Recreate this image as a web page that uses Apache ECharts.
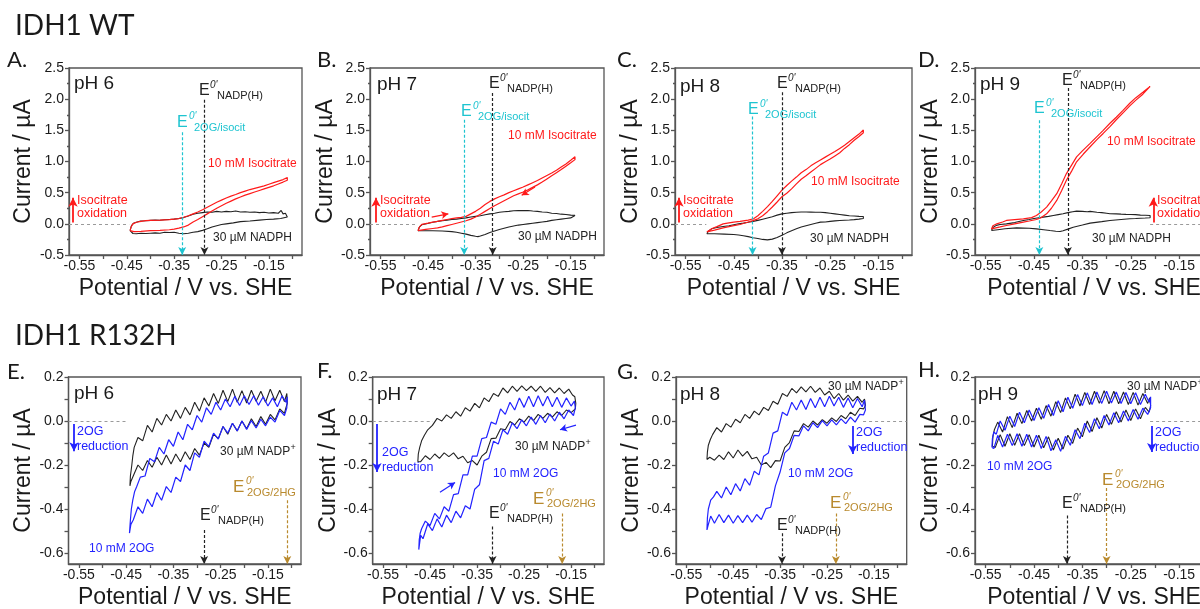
<!DOCTYPE html>
<html><head><meta charset="utf-8">
<script src="https://cdn.jsdelivr.net/npm/echarts@6/dist/echarts.min.js"></script>
<style>html,body{margin:0;padding:0;background:#fff}#c{width:1200px;height:609px}</style>
</head><body><div id="c"></div>
<script>
// ---------------- DATA ----------------
const X_MIN = -0.572, X_MAX = -0.08;
const xLabelValues = [-0.55, -0.45, -0.35, -0.25, -0.15];
const xTickValues = [-0.55, -0.5, -0.45, -0.4, -0.35, -0.3, -0.25, -0.2, -0.15, -0.1];
const botYLabelValues = [-0.6, -0.4, -0.2, 0, 0.2];
const botYTickValues = [-0.6, -0.5, -0.4, -0.3, -0.2, -0.1, 0, 0.1, 0.2];

const panelIds = ['A','B','C','D','E','F','G','H'];
const phLabels = ['pH 6','pH 7','pH 8','pH 9','pH 6','pH 7','pH 8','pH 9'];
// E0' NADP(H) potentials (V) and top of their dashed marker lines (µA)
const nadpE0 = [-0.286, -0.314, -0.350, -0.380, -0.285, -0.317, -0.346, -0.382];
const nadpTop = [1.99, 2.10, 2.11, 2.18, -0.495, -0.48, -0.51, -0.43];
// E0' substrate couple (2OG/isocit top row, 2OG/2HG bottom row)
const subE0 = [-0.333, -0.374, -0.411, -0.439, -0.109, -0.169, -0.231, -0.300];
const subTop = [1.47, 1.67, 1.72, 1.66, -0.36, -0.42, -0.42, -0.305];
// zero-current reference segment [from, to]
const zeroSeg = [[-0.572,-0.445],[-0.572,-0.472],[-0.572,-0.507],[-0.21,-0.08],[-0.572,-0.446],[-0.572,-0.444],[-0.173,-0.08],[-0.21,-0.08]];
// signal direction arrows (oxidation up / reduction down)
const signalArrowX = [-0.5635, -0.5594, -0.5637, -0.2034, -0.5604, -0.5629, -0.1951, -0.2067];
const signalArrowY = [[0.02,0.42],[0.02,0.42],[0.02,0.42],[0.02,0.42],[-0.014,-0.137],[-0.014,-0.232],[-0.023,-0.15],[-0.023,-0.141]];
// scan direction arrows
const B_scanArrows = [[[-0.4423,0.108],[-0.4073,0.161]], [[-0.2251,0.591],[-0.2531,0.457]]];
const F_scanArrows = [[[-0.4289,-0.324],[-0.3969,-0.279]], [[-0.1396,-0.0185],[-0.1736,-0.0397]]];

// ---- IDH1 WT: 30 µM NADPH (black) and 10 mM isocitrate (red) ----
const A_nadph = [[-0.443,-0.11],[-0.440,-0.03],[-0.436,0.01],[-0.428,0.03],[-0.421,0.045],[-0.41,0.05],[-0.40,0.055],[-0.39,0.06],[-0.38,0.058],[-0.37,0.065],[-0.36,0.07],[-0.35,0.075],[-0.34,0.085],[-0.33,0.10],[-0.32,0.125],[-0.31,0.155],[-0.30,0.17],[-0.29,0.18],[-0.28,0.19],[-0.27,0.185],[-0.26,0.2],[-0.25,0.19],[-0.24,0.2],[-0.23,0.195],[-0.22,0.205],[-0.21,0.19],[-0.20,0.195],[-0.19,0.185],[-0.18,0.19],[-0.17,0.18],[-0.16,0.185],[-0.15,0.175],[-0.14,0.18],[-0.13,0.17],[-0.124,0.215],[-0.12,0.16],[-0.115,0.17],[-0.111,0.175],
 [-0.111,0.11],[-0.115,0.1],[-0.125,0.085],[-0.14,0.075],[-0.155,0.07],[-0.17,0.06],[-0.19,0.045],[-0.21,0.035],[-0.225,0.015],[-0.24,0.0],[-0.25,-0.01],[-0.26,-0.03],[-0.27,-0.05],[-0.28,-0.08],[-0.29,-0.105],[-0.30,-0.125],[-0.31,-0.135],[-0.32,-0.15],[-0.33,-0.16],[-0.34,-0.15],[-0.35,-0.135],[-0.36,-0.14],[-0.37,-0.135],[-0.38,-0.15],[-0.39,-0.145],[-0.40,-0.15],[-0.41,-0.155],[-0.42,-0.15],[-0.43,-0.16],[-0.437,-0.155],[-0.443,-0.11]];
const A_isocit = [[-0.443,-0.11],[-0.441,-0.05],[-0.437,0.0],[-0.43,0.025],[-0.42,0.04],[-0.41,0.05],[-0.40,0.055],[-0.38,0.06],[-0.36,0.068],[-0.34,0.085],[-0.33,0.105],[-0.32,0.13],[-0.31,0.16],[-0.30,0.19],[-0.29,0.225],[-0.28,0.265],[-0.27,0.305],[-0.26,0.345],[-0.25,0.38],[-0.24,0.415],[-0.23,0.445],[-0.22,0.47],[-0.21,0.50],[-0.20,0.525],[-0.19,0.55],[-0.18,0.57],[-0.17,0.59],[-0.16,0.61],[-0.15,0.635],[-0.14,0.66],[-0.13,0.685],[-0.12,0.71],[-0.111,0.742],
 [-0.111,0.70],[-0.12,0.67],[-0.13,0.64],[-0.14,0.61],[-0.15,0.585],[-0.16,0.56],[-0.17,0.535],[-0.18,0.51],[-0.19,0.485],[-0.20,0.46],[-0.21,0.43],[-0.22,0.40],[-0.23,0.365],[-0.24,0.33],[-0.25,0.29],[-0.26,0.25],[-0.27,0.205],[-0.28,0.16],[-0.29,0.115],[-0.30,0.07],[-0.31,0.03],[-0.32,-0.02],[-0.33,-0.05],[-0.34,-0.07],[-0.35,-0.085],[-0.36,-0.095],[-0.38,-0.105],[-0.40,-0.11],[-0.42,-0.12],[-0.435,-0.125],[-0.443,-0.11]];

const B_nadph = [[-0.471,-0.11],[-0.468,-0.05],[-0.463,-0.015],[-0.453,0.0],[-0.44,0.025],[-0.43,0.04],[-0.42,0.05],[-0.41,0.06],[-0.40,0.07],[-0.39,0.075],[-0.38,0.085],[-0.37,0.095],[-0.36,0.11],[-0.35,0.12],[-0.34,0.13],[-0.33,0.145],[-0.32,0.16],[-0.31,0.17],[-0.30,0.185],[-0.29,0.195],[-0.28,0.2],[-0.27,0.21],[-0.26,0.215],[-0.25,0.212],[-0.24,0.215],[-0.23,0.205],[-0.22,0.2],[-0.21,0.19],[-0.20,0.185],[-0.19,0.17],[-0.18,0.165],[-0.17,0.155],[-0.16,0.15],[-0.15,0.14],[-0.141,0.135],
 [-0.141,0.11],[-0.15,0.095],[-0.16,0.085],[-0.17,0.075],[-0.18,0.065],[-0.19,0.055],[-0.20,0.04],[-0.21,0.03],[-0.22,0.02],[-0.23,0.01],[-0.24,0.0],[-0.25,-0.01],[-0.26,-0.02],[-0.27,-0.035],[-0.28,-0.05],[-0.29,-0.07],[-0.30,-0.09],[-0.31,-0.115],[-0.32,-0.14],[-0.33,-0.17],[-0.34,-0.195],[-0.345,-0.205],[-0.35,-0.2],[-0.36,-0.185],[-0.37,-0.165],[-0.38,-0.15],[-0.39,-0.135],[-0.40,-0.125],[-0.42,-0.115],[-0.44,-0.11],[-0.46,-0.11],[-0.471,-0.11]];
const B_isocit = [[-0.471,-0.11],[-0.469,-0.06],[-0.463,-0.01],[-0.45,0.01],[-0.44,0.027],[-0.43,0.04],[-0.42,0.055],[-0.41,0.07],[-0.40,0.085],[-0.39,0.095],[-0.38,0.105],[-0.37,0.12],[-0.36,0.16],[-0.35,0.2],[-0.34,0.25],[-0.33,0.31],[-0.32,0.36],[-0.31,0.40],[-0.30,0.435],[-0.29,0.465],[-0.28,0.50],[-0.27,0.53],[-0.26,0.56],[-0.25,0.59],[-0.24,0.625],[-0.23,0.66],[-0.22,0.695],[-0.21,0.735],[-0.20,0.775],[-0.19,0.815],[-0.18,0.86],[-0.17,0.91],[-0.16,0.96],[-0.15,1.02],[-0.141,1.075],
 [-0.141,1.03],[-0.15,0.98],[-0.16,0.925],[-0.17,0.87],[-0.18,0.82],[-0.19,0.77],[-0.20,0.72],[-0.21,0.67],[-0.22,0.625],[-0.23,0.585],[-0.24,0.545],[-0.25,0.51],[-0.26,0.48],[-0.27,0.45],[-0.28,0.41],[-0.29,0.37],[-0.30,0.33],[-0.31,0.29],[-0.32,0.245],[-0.33,0.2],[-0.34,0.155],[-0.35,0.11],[-0.36,0.075],[-0.37,0.05],[-0.38,0.03],[-0.39,0.01],[-0.40,-0.01],[-0.41,-0.03],[-0.42,-0.05],[-0.43,-0.065],[-0.44,-0.075],[-0.455,-0.09],[-0.471,-0.11]];

const C_nadph = [[-0.506,-0.16],[-0.503,-0.12],[-0.496,-0.08],[-0.485,-0.06],[-0.472,-0.043],[-0.46,-0.03],[-0.45,-0.015],[-0.44,0.0],[-0.43,0.011],[-0.42,0.025],[-0.41,0.04],[-0.40,0.055],[-0.39,0.075],[-0.38,0.095],[-0.37,0.115],[-0.36,0.14],[-0.35,0.16],[-0.34,0.17],[-0.33,0.18],[-0.32,0.185],[-0.31,0.19],[-0.30,0.19],[-0.29,0.188],[-0.28,0.185],[-0.27,0.185],[-0.26,0.18],[-0.25,0.17],[-0.24,0.16],[-0.23,0.15],[-0.22,0.14],[-0.21,0.13],[-0.20,0.125],[-0.19,0.12],[-0.181,0.118],
 [-0.181,0.085],[-0.19,0.075],[-0.20,0.068],[-0.21,0.062],[-0.22,0.058],[-0.23,0.054],[-0.24,0.048],[-0.25,0.04],[-0.26,0.03],[-0.27,0.027],[-0.28,0.01],[-0.29,-0.01],[-0.30,-0.03],[-0.31,-0.052],[-0.32,-0.08],[-0.33,-0.11],[-0.34,-0.145],[-0.35,-0.185],[-0.36,-0.22],[-0.37,-0.245],[-0.38,-0.258],[-0.39,-0.25],[-0.40,-0.235],[-0.41,-0.222],[-0.42,-0.205],[-0.43,-0.19],[-0.44,-0.178],[-0.45,-0.172],[-0.47,-0.165],[-0.49,-0.16],[-0.506,-0.16]];
const C_isocit = [[-0.506,-0.13],[-0.503,-0.10],[-0.495,-0.075],[-0.485,-0.045],[-0.472,0.0],[-0.46,0.015],[-0.45,0.028],[-0.437,0.038],[-0.42,0.06],[-0.409,0.081],[-0.40,0.13],[-0.39,0.2],[-0.38,0.275],[-0.37,0.36],[-0.36,0.45],[-0.35,0.54],[-0.34,0.615],[-0.33,0.685],[-0.32,0.75],[-0.31,0.82],[-0.30,0.87],[-0.29,0.93],[-0.28,0.98],[-0.27,1.025],[-0.26,1.07],[-0.25,1.115],[-0.24,1.16],[-0.23,1.21],[-0.22,1.26],[-0.21,1.32],[-0.20,1.38],[-0.19,1.44],[-0.181,1.505],
 [-0.181,1.462],[-0.19,1.40],[-0.20,1.34],[-0.21,1.27],[-0.22,1.21],[-0.23,1.14],[-0.24,1.09],[-0.25,1.04],[-0.26,0.995],[-0.27,0.95],[-0.28,0.89],[-0.29,0.83],[-0.30,0.77],[-0.31,0.715],[-0.32,0.64],[-0.33,0.56],[-0.34,0.49],[-0.35,0.435],[-0.36,0.35],[-0.37,0.27],[-0.38,0.195],[-0.39,0.13],[-0.40,0.08],[-0.41,0.052],[-0.42,0.03],[-0.437,-0.011],[-0.45,-0.03],[-0.472,-0.065],[-0.49,-0.1],[-0.506,-0.13]];

const D_nadph = [[-0.538,-0.108],[-0.535,-0.06],[-0.528,-0.025],[-0.52,-0.01],[-0.507,0.0],[-0.49,0.02],[-0.472,0.054],[-0.46,0.07],[-0.45,0.085],[-0.44,0.098],[-0.431,0.108],[-0.42,0.12],[-0.41,0.135],[-0.40,0.148],[-0.39,0.161],[-0.38,0.18],[-0.37,0.195],[-0.362,0.204],[-0.35,0.2],[-0.34,0.195],[-0.334,0.2],[-0.32,0.185],[-0.31,0.18],[-0.30,0.17],[-0.293,0.161],[-0.28,0.16],[-0.27,0.155],[-0.26,0.152],[-0.25,0.15],[-0.24,0.148],[-0.23,0.14],[-0.22,0.138],[-0.21,0.134],
 [-0.21,0.097],[-0.22,0.093],[-0.23,0.09],[-0.24,0.085],[-0.252,0.081],[-0.27,0.07],[-0.293,0.054],[-0.31,0.035],[-0.334,0.011],[-0.35,-0.02],[-0.369,-0.054],[-0.38,-0.085],[-0.39,-0.11],[-0.396,-0.124],[-0.405,-0.118],[-0.417,-0.108],[-0.43,-0.095],[-0.445,-0.081],[-0.46,-0.072],[-0.486,-0.065],[-0.51,-0.08],[-0.525,-0.095],[-0.538,-0.108]];
const D_isocit = [[-0.538,-0.081],[-0.535,-0.03],[-0.527,0.0],[-0.515,0.03],[-0.507,0.054],[-0.49,0.068],[-0.472,0.081],[-0.455,0.1],[-0.445,0.134],[-0.435,0.19],[-0.424,0.269],[-0.414,0.37],[-0.403,0.484],[-0.393,0.64],[-0.383,0.806],[-0.372,0.945],[-0.362,1.075],[-0.35,1.17],[-0.334,1.29],[-0.32,1.40],[-0.307,1.50],[-0.293,1.613],[-0.28,1.71],[-0.266,1.82],[-0.252,1.935],[-0.24,2.02],[-0.225,2.11],[-0.21,2.204],
 [-0.21,2.194],[-0.225,2.08],[-0.24,1.98],[-0.252,1.892],[-0.266,1.78],[-0.28,1.67],[-0.293,1.559],[-0.307,1.45],[-0.32,1.35],[-0.334,1.237],[-0.348,1.12],[-0.362,0.995],[-0.372,0.85],[-0.383,0.699],[-0.393,0.53],[-0.403,0.376],[-0.414,0.25],[-0.424,0.161],[-0.435,0.1],[-0.445,0.07],[-0.46,0.045],[-0.472,0.027],[-0.49,0.0],[-0.507,-0.027],[-0.52,-0.05],[-0.538,-0.081]];

// ---- IDH1 R132H: 30 µM NADP+ (black) and 10 mM 2OG (blue) ----
const E_nadp = [[-0.442,-0.295],[-0.441,-0.25],[-0.438,-0.20],[-0.436,-0.16],[-0.433,-0.12],[-0.425,-0.075],[-0.415,-0.090],[-0.405,-0.020],[-0.395,-0.050],[-0.385,0.012],[-0.375,-0.018],[-0.365,0.030],[-0.355,0.000],[-0.345,0.050],[-0.335,0.012],[-0.325,0.062],[-0.315,0.028],[-0.305,0.085],[-0.295,0.045],[-0.285,0.105],[-0.275,0.068],[-0.265,0.125],[-0.255,0.080],[-0.245,0.140],[-0.235,0.088],[-0.225,0.145],[-0.215,0.085],[-0.205,0.138],[-0.195,0.082],[-0.185,0.140],[-0.175,0.090],[-0.165,0.135],[-0.155,0.085],[-0.145,0.145],[-0.135,0.092],[-0.125,0.140],[-0.115,0.088],[-0.110,0.125],[-0.109,0.08],
 [-0.112,0.060],[-0.115,0.035],[-0.125,0.055],[-0.135,0.005],[-0.145,0.030],[-0.155,-0.015],[-0.165,0.020],[-0.175,-0.025],[-0.185,0.010],[-0.195,-0.035],[-0.205,0.000],[-0.215,-0.045],[-0.225,-0.010],[-0.235,-0.060],[-0.245,-0.025],[-0.255,-0.080],[-0.265,-0.060],[-0.275,-0.120],[-0.285,-0.100],[-0.295,-0.155],[-0.305,-0.125],[-0.315,-0.175],[-0.325,-0.140],[-0.335,-0.185],[-0.345,-0.150],[-0.355,-0.195],[-0.365,-0.155],[-0.375,-0.200],[-0.385,-0.165],[-0.395,-0.210],[-0.405,-0.180],[-0.415,-0.225],[-0.425,-0.200],[-0.435,-0.250],[-0.440,-0.275],[-0.442,-0.295]];
const E_2og = [[-0.443,-0.51],[-0.441,-0.45],[-0.439,-0.40],[-0.436,-0.36],[-0.432,-0.32],[-0.428,-0.30],[-0.420,-0.255],[-0.410,-0.250],[-0.400,-0.170],[-0.390,-0.185],[-0.380,-0.120],[-0.370,-0.150],[-0.360,-0.085],[-0.350,-0.115],[-0.340,-0.050],[-0.330,-0.085],[-0.320,-0.015],[-0.310,-0.040],[-0.300,0.025],[-0.290,-0.005],[-0.280,0.060],[-0.270,0.030],[-0.260,0.085],[-0.250,0.050],[-0.240,0.100],[-0.230,0.065],[-0.220,0.112],[-0.210,0.070],[-0.200,0.115],[-0.190,0.075],[-0.180,0.115],[-0.170,0.072],[-0.160,0.110],[-0.150,0.068],[-0.140,0.105],[-0.130,0.065],[-0.120,0.115],[-0.112,0.085],[-0.109,0.11],
 [-0.110,0.06],[-0.115,0.025],[-0.125,0.048],[-0.135,-0.005],[-0.145,0.018],[-0.155,-0.022],[-0.165,0.008],[-0.175,-0.032],[-0.185,0.002],[-0.195,-0.038],[-0.205,0.000],[-0.215,-0.045],[-0.225,-0.010],[-0.235,-0.055],[-0.245,-0.025],[-0.255,-0.082],[-0.265,-0.055],[-0.275,-0.115],[-0.285,-0.092],[-0.295,-0.165],[-0.305,-0.145],[-0.315,-0.225],[-0.325,-0.200],[-0.335,-0.275],[-0.345,-0.255],[-0.355,-0.325],[-0.365,-0.298],[-0.375,-0.360],[-0.385,-0.325],[-0.395,-0.390],[-0.405,-0.355],[-0.415,-0.420],[-0.425,-0.390],[-0.435,-0.450],[-0.440,-0.470],[-0.443,-0.51]];

const F_nadp = [[-0.476,-0.185],[-0.475,-0.15],[-0.472,-0.12],[-0.468,-0.09],[-0.462,-0.065],[-0.455,-0.04],[-0.445,-0.020],[-0.435,0.012],[-0.425,0.000],[-0.415,0.028],[-0.405,0.012],[-0.395,0.042],[-0.385,0.022],[-0.375,0.060],[-0.365,0.045],[-0.355,0.080],[-0.345,0.060],[-0.335,0.105],[-0.325,0.088],[-0.315,0.125],[-0.305,0.112],[-0.295,0.150],[-0.285,0.128],[-0.275,0.158],[-0.265,0.135],[-0.255,0.160],[-0.245,0.138],[-0.235,0.158],[-0.225,0.135],[-0.215,0.158],[-0.205,0.130],[-0.195,0.152],[-0.185,0.128],[-0.175,0.150],[-0.165,0.125],[-0.155,0.145],[-0.147,0.118],[-0.142,0.11],[-0.140,0.08],[-0.141,0.055],
 [-0.150,0.038],[-0.160,0.050],[-0.170,0.025],[-0.180,0.042],[-0.190,0.018],[-0.200,0.035],[-0.210,0.012],[-0.220,0.030],[-0.230,0.002],[-0.240,0.022],[-0.250,-0.005],[-0.260,0.010],[-0.270,-0.018],[-0.280,-0.002],[-0.290,-0.040],[-0.300,-0.035],[-0.310,-0.078],[-0.320,-0.080],[-0.330,-0.142],[-0.340,-0.160],[-0.350,-0.200],[-0.360,-0.180],[-0.370,-0.190],[-0.380,-0.160],[-0.390,-0.172],[-0.400,-0.145],[-0.410,-0.162],[-0.420,-0.145],[-0.430,-0.170],[-0.440,-0.150],[-0.450,-0.175],[-0.460,-0.158],[-0.470,-0.185],[-0.476,-0.185]];
const F_2og = [[-0.474,-0.585],[-0.473,-0.54],[-0.471,-0.51],[-0.468,-0.49],[-0.460,-0.455],[-0.450,-0.475],[-0.440,-0.420],[-0.430,-0.445],[-0.420,-0.390],[-0.410,-0.410],[-0.400,-0.335],[-0.390,-0.330],[-0.380,-0.245],[-0.370,-0.245],[-0.360,-0.160],[-0.350,-0.160],[-0.340,-0.080],[-0.330,-0.075],[-0.320,-0.005],[-0.310,-0.015],[-0.300,0.055],[-0.290,0.030],[-0.280,0.085],[-0.270,0.050],[-0.260,0.105],[-0.250,0.062],[-0.240,0.112],[-0.230,0.065],[-0.220,0.115],[-0.210,0.068],[-0.200,0.112],[-0.190,0.065],[-0.180,0.108],[-0.170,0.062],[-0.160,0.105],[-0.150,0.068],[-0.143,0.09],[-0.141,0.06],
 [-0.145,0.025],[-0.155,0.050],[-0.165,0.010],[-0.175,0.040],[-0.185,0.000],[-0.195,0.032],[-0.205,-0.008],[-0.215,0.025],[-0.225,-0.015],[-0.235,0.018],[-0.245,-0.022],[-0.255,0.005],[-0.265,-0.035],[-0.275,-0.008],[-0.285,-0.060],[-0.295,-0.040],[-0.305,-0.105],[-0.315,-0.092],[-0.325,-0.170],[-0.335,-0.180],[-0.345,-0.290],[-0.355,-0.310],[-0.365,-0.400],[-0.375,-0.385],[-0.385,-0.440],[-0.395,-0.410],[-0.405,-0.462],[-0.415,-0.428],[-0.425,-0.482],[-0.435,-0.445],[-0.445,-0.498],[-0.455,-0.468],[-0.465,-0.535],[-0.470,-0.520],[-0.474,-0.585]];

const G_nadp = [[-0.506,-0.175],[-0.505,-0.14],[-0.503,-0.11],[-0.499,-0.085],[-0.494,-0.062],[-0.485,-0.030],[-0.475,-0.050],[-0.465,-0.012],[-0.455,-0.028],[-0.445,0.008],[-0.435,-0.008],[-0.425,0.030],[-0.415,0.012],[-0.405,0.045],[-0.395,0.028],[-0.385,0.062],[-0.375,0.048],[-0.365,0.090],[-0.355,0.076],[-0.345,0.125],[-0.335,0.112],[-0.325,0.148],[-0.315,0.128],[-0.305,0.155],[-0.295,0.132],[-0.285,0.158],[-0.275,0.130],[-0.265,0.150],[-0.255,0.118],[-0.245,0.135],[-0.235,0.102],[-0.225,0.125],[-0.215,0.095],[-0.205,0.118],[-0.195,0.090],[-0.185,0.112],[-0.175,0.085],[-0.170,0.10],[-0.168,0.07],
 [-0.172,0.055],[-0.180,0.058],[-0.190,0.025],[-0.200,0.040],[-0.210,0.010],[-0.220,0.025],[-0.230,-0.002],[-0.240,0.014],[-0.250,-0.010],[-0.260,0.006],[-0.270,-0.018],[-0.280,0.000],[-0.290,-0.028],[-0.300,-0.012],[-0.310,-0.048],[-0.320,-0.045],[-0.330,-0.098],[-0.340,-0.120],[-0.350,-0.182],[-0.360,-0.180],[-0.370,-0.212],[-0.380,-0.188],[-0.390,-0.200],[-0.400,-0.165],[-0.410,-0.172],[-0.420,-0.138],[-0.430,-0.160],[-0.440,-0.132],[-0.450,-0.168],[-0.460,-0.140],[-0.470,-0.175],[-0.480,-0.155],[-0.490,-0.178],[-0.500,-0.165],[-0.506,-0.175]];
const G_2og = [[-0.506,-0.495],[-0.505,-0.44],[-0.503,-0.40],[-0.498,-0.36],[-0.492,-0.345],[-0.485,-0.320],[-0.475,-0.350],[-0.465,-0.300],[-0.455,-0.335],[-0.445,-0.285],[-0.435,-0.318],[-0.425,-0.262],[-0.415,-0.292],[-0.405,-0.228],[-0.395,-0.245],[-0.385,-0.160],[-0.375,-0.145],[-0.365,-0.055],[-0.355,-0.045],[-0.345,0.040],[-0.335,0.025],[-0.325,0.085],[-0.315,0.050],[-0.305,0.095],[-0.295,0.052],[-0.285,0.102],[-0.275,0.060],[-0.265,0.108],[-0.255,0.065],[-0.245,0.112],[-0.235,0.068],[-0.225,0.108],[-0.215,0.062],[-0.205,0.105],[-0.195,0.060],[-0.185,0.102],[-0.175,0.065],[-0.170,0.095],[-0.168,0.05],
 [-0.172,0.028],[-0.180,0.030],[-0.190,-0.005],[-0.200,0.018],[-0.210,-0.012],[-0.220,0.010],[-0.230,-0.018],[-0.240,0.005],[-0.250,-0.022],[-0.260,0.002],[-0.270,-0.030],[-0.280,-0.008],[-0.290,-0.045],[-0.300,-0.022],[-0.310,-0.068],[-0.320,-0.065],[-0.330,-0.125],[-0.340,-0.145],[-0.350,-0.232],[-0.360,-0.295],[-0.370,-0.392],[-0.380,-0.398],[-0.390,-0.448],[-0.400,-0.425],[-0.410,-0.460],[-0.420,-0.428],[-0.430,-0.462],[-0.440,-0.430],[-0.450,-0.465],[-0.460,-0.428],[-0.470,-0.462],[-0.480,-0.425],[-0.490,-0.465],[-0.498,-0.432],[-0.503,-0.47],[-0.506,-0.495]];

const H_nadp = [[-0.536,-0.115],[-0.535,-0.07],[-0.532,-0.04],[-0.525,-0.005],[-0.515,-0.050],[-0.505,0.020],[-0.495,-0.030],[-0.485,0.035],[-0.475,-0.012],[-0.465,0.048],[-0.455,0.000],[-0.445,0.058],[-0.435,0.008],[-0.425,0.070],[-0.415,0.022],[-0.405,0.088],[-0.395,0.038],[-0.385,0.105],[-0.375,0.055],[-0.365,0.122],[-0.355,0.068],[-0.345,0.130],[-0.335,0.075],[-0.325,0.135],[-0.315,0.080],[-0.305,0.138],[-0.295,0.078],[-0.285,0.135],[-0.275,0.078],[-0.265,0.132],[-0.255,0.075],[-0.245,0.130],[-0.235,0.072],[-0.225,0.125],[-0.215,0.080],[-0.211,0.105],[-0.209,0.07],
 [-0.212,0.040],[-0.220,0.062],[-0.230,0.010],[-0.240,0.055],[-0.250,0.002],[-0.260,0.050],[-0.270,-0.005],[-0.280,0.042],[-0.290,-0.015],[-0.300,0.030],[-0.310,-0.032],[-0.320,0.015],[-0.330,-0.048],[-0.340,0.000],[-0.350,-0.072],[-0.360,-0.032],[-0.370,-0.102],[-0.380,-0.065],[-0.390,-0.128],[-0.400,-0.078],[-0.410,-0.132],[-0.420,-0.072],[-0.430,-0.122],[-0.440,-0.065],[-0.450,-0.118],[-0.460,-0.062],[-0.470,-0.112],[-0.480,-0.058],[-0.490,-0.110],[-0.500,-0.058],[-0.510,-0.115],[-0.520,-0.062],[-0.530,-0.120],[-0.536,-0.115]];
const H_2og = [[-0.537,-0.12],[-0.536,-0.08],[-0.533,-0.05],[-0.528,-0.060],[-0.520,0.000],[-0.510,-0.042],[-0.500,0.022],[-0.490,-0.025],[-0.480,0.040],[-0.470,-0.008],[-0.460,0.050],[-0.450,0.002],[-0.440,0.060],[-0.430,0.012],[-0.420,0.075],[-0.410,0.025],[-0.400,0.092],[-0.390,0.042],[-0.380,0.108],[-0.370,0.058],[-0.360,0.120],[-0.350,0.070],[-0.340,0.128],[-0.330,0.075],[-0.320,0.132],[-0.310,0.080],[-0.300,0.135],[-0.290,0.082],[-0.280,0.132],[-0.270,0.080],[-0.260,0.130],[-0.250,0.078],[-0.240,0.128],[-0.230,0.075],[-0.220,0.122],[-0.212,0.085],[-0.209,0.11],[-0.209,0.06],
 [-0.215,0.030],[-0.225,0.058],[-0.235,0.008],[-0.245,0.052],[-0.255,0.000],[-0.265,0.045],[-0.275,-0.008],[-0.285,0.038],[-0.295,-0.018],[-0.305,0.025],[-0.315,-0.035],[-0.325,0.010],[-0.335,-0.052],[-0.345,-0.010],[-0.355,-0.080],[-0.365,-0.040],[-0.375,-0.110],[-0.385,-0.070],[-0.395,-0.138],[-0.405,-0.085],[-0.415,-0.135],[-0.425,-0.070],[-0.435,-0.125],[-0.445,-0.065],[-0.455,-0.118],[-0.465,-0.060],[-0.475,-0.115],[-0.485,-0.058],[-0.495,-0.112],[-0.505,-0.060],[-0.515,-0.118],[-0.525,-0.065],[-0.533,-0.125],[-0.537,-0.12]];

// ---------------- STYLE / LAYOUT ----------------
const RED = '#ff1a1a', BLACK = '#222222', BLUE = '#2323ff', CYAN = '#1ec4d0', BROWN = '#b98a2e', GRAY = '#9a9a9a';
const AXIS_C = '#555555', TXT = '#1a1a1a';
const SANS = '"Liberation Sans", Arial, sans-serif';
const TITLE_FONT = 'Lato, "Open Sans", sans-serif';

const layout = [
  {left:69,   top:68,  width:233,   height:187, yGap:34},
  {left:370,  top:68,  width:234,   height:187, yGap:31},
  {left:675,  top:68,  width:237,   height:187, yGap:32},
  {left:975,  top:68,  width:238,   height:187, yGap:32},
  {left:68.5, top:377, width:232.5, height:187, yGap:33},
  {left:372.7,top:377, width:231.3, height:187, yGap:32},
  {left:676,  top:377, width:230.7, height:187, yGap:33},
  {left:975,  top:377, width:238,   height:187, yGap:32}
];
const curveSets = [
  [A_nadph, A_isocit],[B_nadph, B_isocit],[C_nadph, C_isocit],[D_nadph, D_isocit],
  [E_nadp, E_2og],[F_nadp, F_2og],[G_nadp, G_2og],[H_nadp, H_2og]
];

const grids = [], xAxes = [], yAxes = [], series = [];
const lineCol = {color: AXIS_C, width: 1.3};

layout.forEach((L, i) => {
  const top = i < 4;
  grids.push({left:L.left, top:L.top, width:L.width, height:L.height, show:true,
    borderColor:AXIS_C, borderWidth:1.3, backgroundColor:'transparent', containLabel:false, outerBoundsMode:'none'});
  xAxes.push({type:'value', gridIndex:i, min:X_MIN, max:X_MAX,
    axisLine:{show:true, onZero:false, lineStyle:lineCol},
    axisTick:{show:true, length:4, lineStyle:lineCol, customValues:xTickValues},
    axisLabel:{show:true, customValues:xLabelValues, formatter:v=>v.toFixed(2), fontSize:14, color:TXT, fontFamily:SANS, margin:4},
    splitLine:{show:false},
    name:'Potential / V vs. SHE', nameLocation:'middle', nameGap:22,
    nameTextStyle:{fontSize:23, color:TXT, fontFamily:SANS}});
  const yBase = {type:'value', gridIndex:i,
    axisLine:{show:true, onZero:false, lineStyle:lineCol},
    splitLine:{show:false},
    name:'Current / µA', nameLocation:'middle', nameGap:L.yGap, nameRotate:90,
    nameTextStyle:{fontSize:23, color:TXT, fontFamily:SANS}};
  if (top) {
    Object.assign(yBase, {min:-0.5, max:2.5, interval:0.5,
      axisTick:{show:true, length:4, lineStyle:lineCol},
      minorTick:{show:true, splitNumber:2, length:2, lineStyle:lineCol},
      axisLabel:{formatter:v=>v.toFixed(1), fontSize:14, color:TXT, fontFamily:SANS, margin:5}});
  } else {
    Object.assign(yBase, {min:-0.65, max:0.2,
      axisTick:{show:true, length:4, lineStyle:lineCol, customValues:botYTickValues},
      axisLabel:{customValues:botYLabelValues, formatter:v=>v.toFixed(1), fontSize:14, color:TXT, fontFamily:SANS, margin:5}});
  }
  yAxes.push(yBase);

  // marker lines (E0' drops, zero reference, signal arrows)
  const yBot = top ? -0.5 : -0.65;
  const subColor = top ? CYAN : BROWN;
  const sigColor = top ? RED : BLUE;
  const mk = [];
  mk.push([{coord:[zeroSeg[i][0],0], symbol:'none', lineStyle:{color:GRAY, width:1, type:[3,3]}}, {coord:[zeroSeg[i][1],0], symbol:'none'}]);
  mk.push([{coord:[nadpE0[i], nadpTop[i]], symbol:'none', lineStyle:{color:BLACK, width:1.2, type:[3,2]}}, {coord:[nadpE0[i], yBot], symbol:'arrow', symbolSize:[6,8]}]);
  mk.push([{coord:[subE0[i], subTop[i]], symbol:'none', lineStyle:{color:subColor, width:1.2, type:[3,2]}}, {coord:[subE0[i], yBot], symbol:'arrow', symbolSize:[6,8]}]);
  mk.push([{coord:[signalArrowX[i], signalArrowY[i][0]], symbol:'none', lineStyle:{color:sigColor, width:1.8, type:'solid'}}, {coord:[signalArrowX[i], signalArrowY[i][1]], symbol:'arrow', symbolSize:[7,9]}]);
  const scan = i === 1 ? B_scanArrows : (i === 5 ? F_scanArrows : []);
  scan.forEach(a => mk.push([{coord:a[0], symbol:'none', lineStyle:{color:sigColor, width:1.2, type:'solid'}}, {coord:a[1], symbol:'arrow', symbolSize:[6,7]}]));

  const cs = curveSets[i];
  series.push({type:'line', xAxisIndex:i, yAxisIndex:i, data:cs[0], showSymbol:false, symbol:'none',
    lineStyle:{color:BLACK, width:1.1}, itemStyle:{color:BLACK}, z:2, silent:true, animation:false,
    markLine:{silent:true, animation:false, symbol:['none','none'], label:{show:false}, emphasis:{disabled:true}, data:mk}});
  series.push({type:'line', xAxisIndex:i, yAxisIndex:i, data:cs[1], showSymbol:false, symbol:'none',
    lineStyle:{color: top ? RED : BLUE, width:1.2}, itemStyle:{color: top ? RED : BLUE}, z:3, silent:true, animation:false});
});

// ---------------- TEXT ANNOTATIONS ----------------
const G = [];
function txt(x, y, text, font, fill) {
  G.push({type:'text', x, y, silent:true, z:100,
    style:{text, font, fill, textAlign:'left', align:'left', textVerticalAlign:'middle', verticalAlign:'middle'}});
}
txt(15, 26, 'IDH1 WT', '28px ' + TITLE_FONT, TXT);
txt(15, 336, 'IDH1 R132H', '28px ' + TITLE_FONT, TXT);
const letterPos = [[7,60],[317,60],[617,60],[918,60],[7,372],[317,371],[617,372],[918,370]];
const phPos = [[74,84],[377,85],[680,87],[980,84.5],[74,394],[377,395],[680,395],[978,395]];
panelIds.forEach((id, i) => {
  txt(letterPos[i][0], letterPos[i][1], id + '.', '22px ' + TITLE_FONT, TXT);
  txt(phPos[i][0], phPos[i][1], phLabels[i], '19px ' + SANS, TXT);
});
function e0(x, cy, sub, color, eSize, supDx, subDx) {
  txt(x, cy, 'E', eSize + 'px ' + SANS, color);
  txt(x + supDx, cy - 6, "0'", 'italic 10px ' + SANS, color);
  txt(x + subDx, cy + 5, sub, '11px ' + SANS, color);
}
const nadpLabelPos = [[199,91],[489,84],[777,84],[1062,81],[200,516],[489,514],[777,526],[1062,504]];
const subLabelPos = [[177,122.5],[461,112],[748,110],[1034,109],[233,487.5],[533,499],[830,503],[1102,480]];
panelIds.forEach((id, i) => {
  e0(nadpLabelPos[i][0], nadpLabelPos[i][1], 'NADP(H)', BLACK, 16, 11, 18);
  if (i < 4) e0(subLabelPos[i][0], subLabelPos[i][1], '2OG/isocit', CYAN, 16, 12, 17);
  else e0(subLabelPos[i][0], subLabelPos[i][1], '2OG/2HG', BROWN, 17, 13, 14);
});
const F12 = '12px ' + SANS, F13 = '12.5px ' + SANS;
// top row labels
const isoLabel = [[208,164],[508,136],[811,182],[1107,142]];
const nadphLabel = [[213,238],[518,237],[810,239],[1092,239]];
const oxLabel = [[77,201],[380,201],[683,201],[1157,201]];
for (let i = 0; i < 4; i++) {
  txt(isoLabel[i][0], isoLabel[i][1], '10 mM Isocitrate', F12, RED);
  txt(nadphLabel[i][0], nadphLabel[i][1], '30 µM NADPH', F12, BLACK);
  txt(oxLabel[i][0], oxLabel[i][1], 'Isocitrate', F13, RED);
  txt(oxLabel[i][0], oxLabel[i][1] + 13, 'oxidation', F13, RED);
}
// bottom row labels
const redLabel = [[77,432],[382,453],[856,433],[1155,433]];
const nadpPlusLabel = [[220,452],[515,447],[828,387],[1127,387]];
const ogLabel = [[89,549],[493,474],[788,474],[987,467]];
for (let i = 0; i < 4; i++) {
  txt(redLabel[i][0], redLabel[i][1], '2OG', F13, BLUE);
  txt(redLabel[i][0], redLabel[i][1] + 15, 'reduction', F13, BLUE);
  txt(nadpPlusLabel[i][0], nadpPlusLabel[i][1], '30 µM NADP', F12, BLACK);
  txt(nadpPlusLabel[i][0] + 70.5, nadpPlusLabel[i][1] - 4, '+', '9px ' + SANS, BLACK);
  txt(ogLabel[i][0], ogLabel[i][1], '10 mM 2OG', F12, BLUE);
}

const chart = echarts.init(document.getElementById('c'), null, {renderer:'canvas', width:1200, height:609});
chart.setOption({
  backgroundColor:'#ffffff', animation:false,
  grid:grids, xAxis:xAxes, yAxis:yAxes, series, graphic:G
});
</script></body></html>
